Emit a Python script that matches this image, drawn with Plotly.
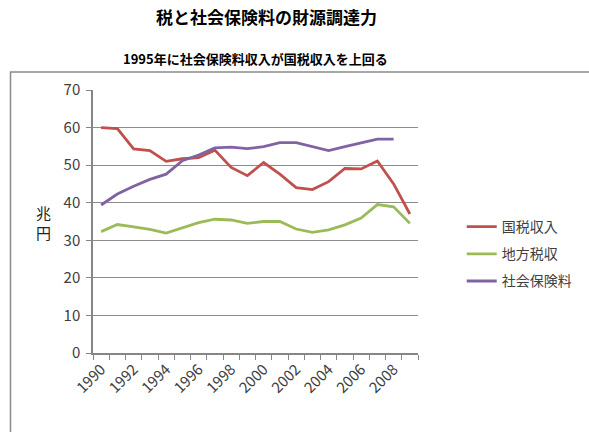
import plotly.graph_objects as go

years = list(range(1990, 2010))
kokuzei = [60.0, 59.7, 54.3, 53.9, 51.0, 51.7, 52.0, 54.0, 49.4, 47.2, 50.7, 47.6, 44.0, 43.5, 45.6, 49.1, 49.0, 51.1, 45.0, 37.0]
chihou = [32.3, 34.2, 33.6, 32.9, 31.9, 33.2, 34.7, 35.6, 35.4, 34.5, 35.0, 35.0, 33.0, 32.1, 32.8, 34.1, 35.9, 39.5, 38.9, 34.5]
shakai = [39.4, 42.3, 44.4, 46.2, 47.6, 51.2, 52.7, 54.6, 54.8, 54.4, 54.9, 56.0, 56.0, 54.9, 53.9, 54.9, 56.0, 56.9, 56.9, None]
tick_years = years[::2]
tick_labels = [str(y) for y in tick_years]

names = ["国税収入", "地方税収", "社会保険料"]
colors = ["#C0504D", "#9BBB59", "#8064A2"]
series = [kokuzei, chihou, shakai]

title = "税と社会保険料の財源調達力"
subtitle = "1995年に社会保険料収入が国税収入を上回る"
ylabel = "兆<br>円"

FONT = "Noto Sans CJK JP, Noto Sans, sans-serif"

fig = go.Figure()
for n, c, s in zip(names, colors, series):
    fig.add_trace(go.Scatter(x=years, y=s, name=n, mode="lines",
                             line=dict(color=c, width=2.8),
                             legendgroup=n, connectgaps=False))

W, H = 589, 432
PL, PR, PT, PB = 93, 420, 90, 353  # plot area in window pixels
L, T, R, B = PL, PT, W - PR, H - PB
pw, ph = PR - PL, PB - PT

def px_x(p):
    return (p - PL) / pw

def px_y(p):
    return (PB - p) / ph

boundaries = [years[0] - 0.5] + [y + 0.5 for y in years]

fig.update_layout(
    width=W, height=H,
    margin=dict(l=L, r=R, t=T, b=B),
    paper_bgcolor="white", plot_bgcolor="white",
    font=dict(family=FONT, color="#404040", size=14),
    showlegend=True,
    legend=dict(x=px_x(464), y=px_y(211), xanchor="left", yanchor="top",
                traceorder="grouped", tracegroupgap=6,
                font=dict(size=14, color="#404040"), bgcolor="rgba(0,0,0,0)"),
    xaxis=dict(range=[years[0] - 0.5, years[-1] + 0.5],
               tickmode="array", tickvals=tick_years, ticktext=tick_labels,
               ticks="", tickangle=-45,
               minor=dict(tickmode="array", tickvals=boundaries, ticks="outside",
                          ticklen=5, tickcolor="#868686", showgrid=False),
               showline=True, linecolor="#868686", linewidth=1.5,
               showgrid=False, zeroline=False,
               tickfont=dict(size=15, color="#404040")),
    yaxis=dict(range=[0, 70], dtick=10, ticks="outside", ticklen=5,
               tickcolor="#868686", showline=True, linecolor="#868686",
               linewidth=1.5, showgrid=True, gridcolor="#8c8c8c", gridwidth=1,
               zeroline=False, tickfont=dict(size=15, color="#404040"),
               ticklabelstandoff=3),
    annotations=[
        dict(text="<b>" + title + "</b>", xref="paper", yref="paper",
             x=px_x(268), y=px_y(17), xanchor="center", yanchor="middle",
             showarrow=False, font=dict(size=17, color="#000000", family=FONT)),
        dict(text="<b>" + subtitle + "</b>", xref="paper", yref="paper",
             x=px_x(257), y=px_y(58), xanchor="center", yanchor="middle",
             showarrow=False, font=dict(size=13, color="#000000", family=FONT)),
        dict(text=ylabel, xref="paper", yref="paper",
             x=px_x(43), y=px_y(222), xanchor="center", yanchor="middle",
             showarrow=False, font=dict(size=15, color="#222222", family=FONT)),
    ],
    shapes=[
        dict(type="rect", xref="paper", yref="paper",
             x0=px_x(10), x1=px_x(620), y0=px_y(470), y1=px_y(72),
             line=dict(color="#8a8a8a", width=1.5), fillcolor="rgba(0,0,0,0)",
             layer="below"),
    ],
)

fig.write_html("out.html",
               config={"displayModeBar": False},
               post_script="document.body.style.margin='0px';"
                           "document.body.style.overflow='hidden';")
